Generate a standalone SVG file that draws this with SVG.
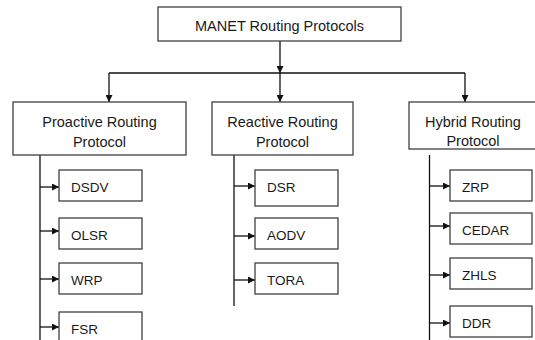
<svg xmlns="http://www.w3.org/2000/svg" width="535" height="340" viewBox="0 0 535 340">
<defs>
<marker id="ah" viewBox="0 0 10 10" refX="10" refY="5" markerWidth="7" markerHeight="7" markerUnits="userSpaceOnUse" orient="auto">
<path d="M0,0 L10,5 L0,10 z" fill="#111"/>
</marker>
<style>
.box{fill:#fff;stroke:#404040;stroke-width:1.3}
.ln{fill:none;stroke:#111;stroke-width:1.3}
.ar{fill:none;stroke:#111;stroke-width:1.3;marker-end:url(#ah)}
.h{font-family:"Liberation Sans",Arial,sans-serif;font-size:14.5px;fill:#1a1a1a;text-anchor:middle}
.t{font-family:"Liberation Sans",Arial,sans-serif;font-size:13.5px;fill:#1a1a1a}
</style>
</defs>
<rect width="535" height="340" fill="#fff"/>
<g id="connectors">
<path class="ar" d="M280,41 V73"/>
<path class="ln" d="M109,73 H465"/>
<path class="ar" d="M109,73 V102"/>
<path class="ar" d="M280,73 V102"/>
<path class="ar" d="M465,73 V102"/>
<path class="ln" d="M40,155 V340"/>
<path class="ar" d="M40,187 H59"/>
<path class="ar" d="M40,231 H59"/>
<path class="ar" d="M40,279 H59"/>
<path class="ar" d="M40,327 H59"/>
<path class="ln" d="M234,155 V306"/>
<path class="ar" d="M234,186 H255"/>
<path class="ar" d="M234,236 H255"/>
<path class="ar" d="M234,280 H255"/>
<path class="ln" d="M429.5,155 V340"/>
<path class="ar" d="M429.5,186 H450"/>
<path class="ar" d="M429.5,226 H450"/>
<path class="ar" d="M429.5,275 H450"/>
<path class="ar" d="M429.5,323 H450"/>
</g>
<g id="manet"><rect class="box" x="158" y="7" width="243" height="34"/><text class="h" x="279.5" y="30.5">MANET Routing Protocols</text></g>
<g id="proactive"><rect class="box" x="13" y="102" width="173" height="53"/><text class="h" x="99.5" y="126.5">Proactive Routing</text><text class="h" x="99.5" y="146.5">Protocol</text></g>
<g id="reactive"><rect class="box" x="212" y="102" width="141" height="53"/><text class="h" x="282.5" y="126.5">Reactive Routing</text><text class="h" x="282.5" y="146.5">Protocol</text></g>
<g id="hybrid"><rect class="box" x="409" y="102" width="130" height="47"/><text class="h" x="473" y="126.5">Hybrid Routing</text><text class="h" x="473" y="146">Protocol</text></g>
<g id="dsdv"><rect class="box" x="59" y="170" width="83" height="31"/><text class="t" x="71" y="192">DSDV</text></g>
<g id="olsr"><rect class="box" x="59" y="218" width="83" height="31"/><text class="t" x="71" y="240">OLSR</text></g>
<g id="wrp"><rect class="box" x="59" y="263" width="83" height="31"/><text class="t" x="71" y="285">WRP</text></g>
<g id="fsr"><rect class="box" x="59" y="312" width="83" height="33"/><text class="t" x="71" y="334">FSR</text></g>
<g id="dsr"><rect class="box" x="255" y="170" width="83" height="36"/><text class="t" x="267" y="192">DSR</text></g>
<g id="aodv"><rect class="box" x="255" y="218" width="83" height="31"/><text class="t" x="267" y="240">AODV</text></g>
<g id="tora"><rect class="box" x="255" y="263" width="83" height="31"/><text class="t" x="267" y="285">TORA</text></g>
<g id="zrp"><rect class="box" x="450" y="170" width="82" height="31"/><text class="t" x="462" y="192">ZRP</text></g>
<g id="cedar"><rect class="box" x="450" y="213" width="82" height="31"/><text class="t" x="462" y="235">CEDAR</text></g>
<g id="zhls"><rect class="box" x="450" y="258" width="82" height="31"/><text class="t" x="462" y="280">ZHLS</text></g>
<g id="ddr"><rect class="box" x="450" y="306" width="82" height="31"/><text class="t" x="462" y="328">DDR</text></g>
</svg>
